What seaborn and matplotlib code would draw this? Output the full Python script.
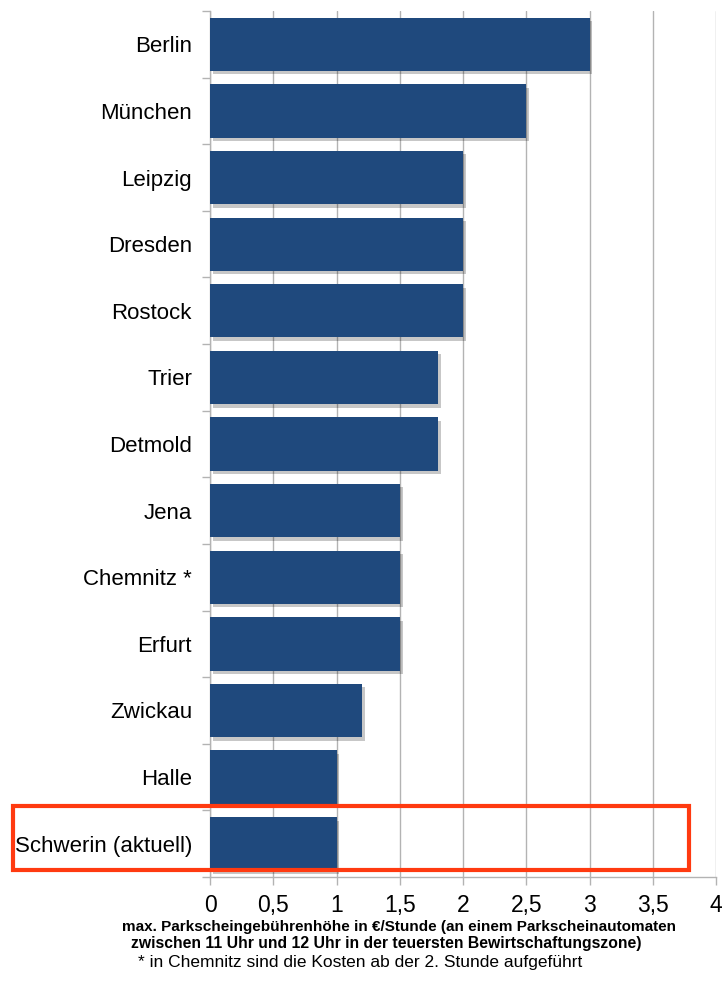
"""
    Parkscheingebuehren im Staedtevergleich (horizontales Balkendiagramm)
"""
import pandas as pd
import seaborn as sns
import matplotlib.pyplot as plt
import matplotlib.patheffects as pe
from matplotlib.patches import Rectangle
from matplotlib.ticker import MultipleLocator, FuncFormatter

cities = ["Berlin", "München", "Leipzig", "Dresden", "Rostock", "Trier", "Detmold",
          "Jena", "Chemnitz *", "Erfurt", "Zwickau", "Halle", "Schwerin (aktuell)"]
fees = [3.0, 2.5, 2.0, 2.0, 2.0, 1.8, 1.8, 1.5, 1.5, 1.5, 1.2, 1.0, 1.0]
highlight = "Schwerin (aktuell)"

xlabel_lines = ["max. Parkscheingebührenhöhe in €/Stunde (an einem Parkscheinautomaten",
                "zwischen 11 Uhr und 12 Uhr in der teuersten Bewirtschaftungszone)"]
footnote = "* in Chemnitz sind die Kosten ab der 2. Stunde aufgeführt"

sns.set_style("white")
plt.rcParams['font.family'] = ['Liberation Sans', 'DejaVu Sans']
plt.rcParams['text.color'] = 'black'
plt.rcParams['xtick.color'] = 'black'
plt.rcParams['ytick.color'] = 'black'

df = pd.DataFrame({"city": cities, "fee": fees})
BAR = "#1F497D"
GRID = "#b3b3b3"

fig = plt.figure(figsize=(7.24, 9.83), dpi=100)
ax = fig.add_axes([0.2901, 0.1078, 0.6989, 0.881])

sns.barplot(data=df, x="fee", y="city", ax=ax, color=BAR, width=0.8,
            saturation=1, orient="h", linewidth=0, zorder=3)
for bar in ax.patches:
    bar.set_path_effects([pe.SimplePatchShadow(offset=(2, -2.5), shadow_rgbFace="#000000", alpha=0.22),
                          pe.Normal()])

# Axis cosmetics
ax.set_xlim(0, 4)
ax.set_ylim(len(cities) - 0.5, -0.5)
ax.xaxis.set_major_locator(MultipleLocator(0.5))
ax.xaxis.set_major_formatter(FuncFormatter(lambda v, p: f"{v:g}".replace(".", ",")))
ax.grid(axis="x", color=GRID, lw=1, zorder=0)
ax.set_axisbelow(True)
for s in ["top", "right"]:
    ax.spines[s].set_visible(False)
for s in ["left", "bottom"]:
    ax.spines[s].set_color(GRID)
    ax.spines[s].set_linewidth(1)

ax.set_yticks([i for i in range(len(cities))])
ax.set_yticklabels(cities)
ax.set_yticks([i - 0.5 for i in range(len(cities) + 1)], minor=True)
ax.tick_params(axis="y", which="major", left=False, length=0, pad=13, labelsize=16,
               labelcolor="black")
ax.tick_params(axis="y", which="minor", left=True, length=6, color=GRID, width=1)
ax.tick_params(axis="x", which="major", bottom=True, length=6, color=GRID, width=1,
               labelsize=16.5, pad=6, labelcolor="black")
ax.set_xlabel("")
ax.set_ylabel("")

# red frame around the current value
k = cities.index(highlight)
ax.add_patch(Rectangle((-1.557, k - 0.57), 5.344, 0.96, fill=False, ec="#FF3A10", lw=3,
                       clip_on=False, zorder=5))

fig.text(0.551, 0.057, xlabel_lines[0], ha="center", va="center", fontsize=11, fontweight="bold")
fig.text(0.533, 0.040, xlabel_lines[1], ha="center", va="center", fontsize=11.3, fontweight="bold")
fig.text(0.498, 0.021, footnote, ha="center", va="center", fontsize=12.5)

plt.savefig("out.png", dpi=100)
plt.close()
